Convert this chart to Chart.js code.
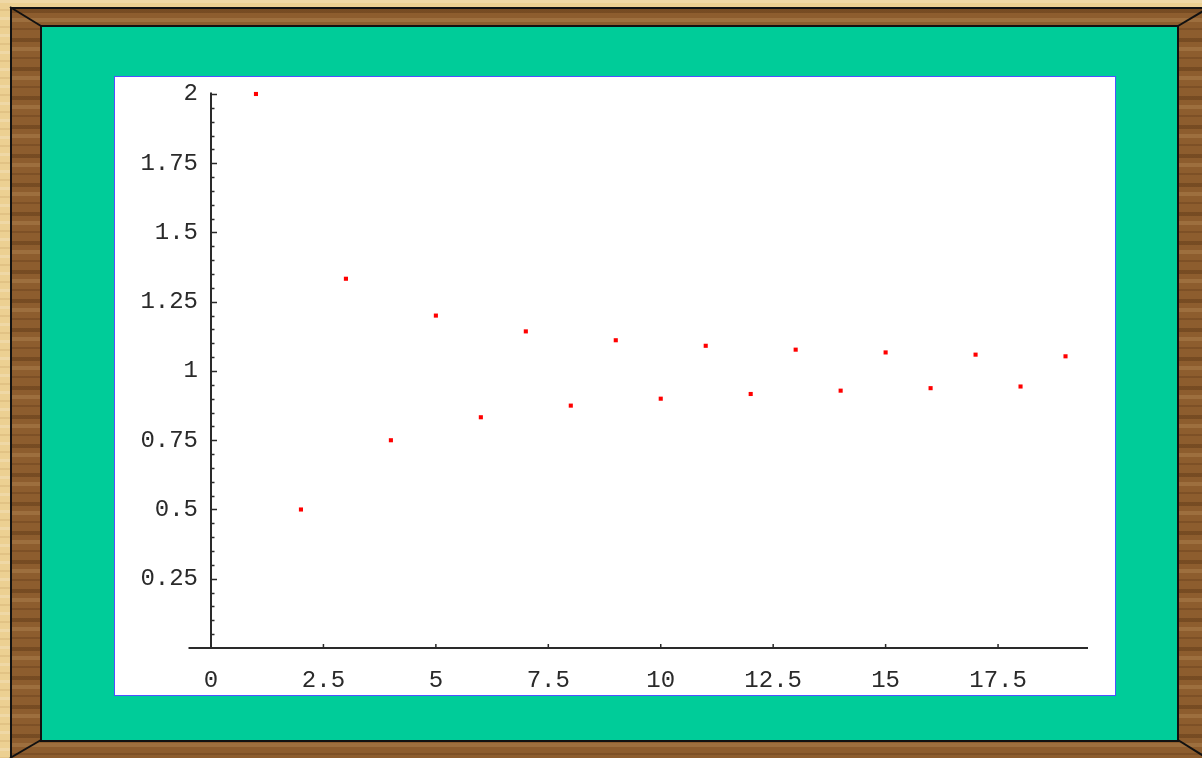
<!DOCTYPE html>
<html>
<head>
<meta charset="utf-8">
<script src="https://cdn.jsdelivr.net/npm/chart.js@4/dist/chart.umd.min.js"></script>
<style>
	html, body { margin: 0; padding: 0; }
	body {
		width: 1202px; height: 758px; overflow: hidden; position: relative;
		background:
			repeating-linear-gradient(180deg, rgba(255,255,255,0.18) 0 3px, rgba(0,0,0,0) 3px 9px, rgba(150,100,40,0.12) 9px 11px, rgba(0,0,0,0) 11px 17px),
			#ecd092;
	}
	#frame {
		position: absolute; left: 10px; top: 7px; width: 1200px; height: 753px;
		box-sizing: border-box; border: 2px solid #111;
		background:
			repeating-linear-gradient(180deg, rgba(60,30,5,0.28) 0 4px, rgba(0,0,0,0) 4px 9px, rgba(255,220,160,0.14) 9px 13px, rgba(0,0,0,0) 13px 19px, rgba(70,35,10,0.22) 19px 21px, rgba(0,0,0,0) 21px 29px),
			#8d5d2e;
	}
	#mat {
		position: absolute; left: 40px; top: 25px; width: 1139px; height: 717px;
		box-sizing: border-box; border: 2px solid #111; background: #00cc99;
	}
	#plot {
		position: absolute; left: 114px; top: 76px; width: 1002px; height: 620px;
		box-sizing: border-box; border: 1px solid #5050ff; background: #fff;
	}
	#chart { position: absolute; left: 115px; top: 77px; }
	svg { position: absolute; left: 0; top: 0; }
</style>
</head>
<body>
<div id="frame"></div>
<div id="mat"></div>
<svg width="1202" height="758">
	<line x1="10" y1="7" x2="41" y2="26" stroke="#111" stroke-width="2"/>
	<line x1="1178" y1="26" x2="1210" y2="7" stroke="#111" stroke-width="2"/>
	<line x1="41" y1="740" x2="10" y2="758" stroke="#111" stroke-width="2"/>
	<line x1="1178" y1="740" x2="1210" y2="760" stroke="#111" stroke-width="2"/>
</svg>
<div id="plot"></div>
<canvas id="chart" width="1000" height="618"></canvas>
<script>
// Points
const nValues = [1, 2, 3, 4, 5, 6, 7, 8, 9, 10, 11, 12, 13, 14, 15, 16, 17, 18, 19];
const yValues = [2.0, 0.5, 1.333, 0.75, 1.2, 0.833, 1.143, 0.875, 1.111, 0.9,
	1.091, 0.917, 1.077, 0.929, 1.067, 0.938, 1.059, 0.944, 1.053];

// Axis ticks
const xTicks = [0, 2.5, 5, 7.5, 10, 12.5, 15, 17.5];
const yTicks = [0.25, 0.5, 0.75, 1, 1.25, 1.5, 1.75, 2];
const xRange = [-0.5, 19.5];
const yRange = [0, 2.005];

const axisColor = '#2a2a2a';
const tickFont = { family: '"Liberation Mono", "DejaVu Sans Mono", monospace', size: 24 };

// Mathematica style axes: crossing at origin, ticks pointing inward
const axesPlugin = {
	id: 'mmaAxes',
	beforeDatasetsDraw(chart) {
		const { ctx, scales: { x, y } } = chart;
		const x0 = x.getPixelForValue(0);
		const y0 = y.getPixelForValue(0);
		ctx.save();
		ctx.strokeStyle = axisColor;
		ctx.lineWidth = 2;
		ctx.beginPath();
		ctx.moveTo(x.getPixelForValue(xRange[0]), y0);
		ctx.lineTo(x.getPixelForValue(xRange[1]), y0);
		ctx.moveTo(x0, y0);
		ctx.lineTo(x0, y.getPixelForValue(yRange[1]));
		ctx.stroke();

		ctx.lineWidth = 1.5;
		ctx.beginPath();
		// y major ticks
		yTicks.forEach(v => {
			const py = Math.round(y.getPixelForValue(v)) + 0.5;
			ctx.moveTo(x0, py);
			ctx.lineTo(x0 + 6, py);
		});
		// y minor ticks
		for (let k = 1; k < 40; k++) {
			if (k % 5 === 0) continue;
			const py = Math.round(y.getPixelForValue(k * 0.05)) + 0.5;
			ctx.moveTo(x0, py);
			ctx.lineTo(x0 + 3.5, py);
		}
		// x major ticks (upward)
		xTicks.forEach(v => {
			if (v === 0) return;
			const px = x.getPixelForValue(v);
			ctx.moveTo(px, y0);
			ctx.lineTo(px, y0 - 4);
		});
		ctx.stroke();
		ctx.restore();
	}
};

new Chart(document.getElementById('chart'), {
	type: 'scatter',
	data: {
		datasets: [{
			data: nValues.map((n, i) => ({ x: n, y: yValues[i] })),
			pointStyle: 'rect',
			pointRadius: 2.9,
			pointHoverRadius: 2.9,
			backgroundColor: '#ff0000',
			borderWidth: 0,
			clip: false
		}]
	},
	options: {
		responsive: false,
		animation: false,
		devicePixelRatio: 1,
		events: [],
		layout: { padding: { top: 15.6, right: 27, left: 0, bottom: 0 } },
		plugins: { legend: { display: false }, tooltip: { enabled: false } },
		scales: {
			x: {
				type: 'linear',
				min: 0,
				max: xRange[1],
				afterFit: s => {
					s.height = 47;
					s.paddingLeft = 0;
					s.paddingRight = 0;
				},
				afterBuildTicks: s => { s.ticks = xTicks.map(v => ({ value: v })); },
				grid: { display: false, drawTicks: false },
				border: { display: false },
				ticks: {
					color: axisColor,
					font: tickFont,
					padding: 18,
					maxRotation: 0,
					autoSkip: false,
					callback: v => String(v)
				}
			},
			y: {
				type: 'linear',
				min: yRange[0],
				max: yRange[1],
				afterFit: s => {
					s.width = 96;
					s.paddingTop = 0;
					s.paddingBottom = 0;
				},
				afterBuildTicks: s => { s.ticks = yTicks.map(v => ({ value: v })); },
				grid: { display: false, drawTicks: false },
				border: { display: false },
				ticks: {
					color: axisColor,
					font: tickFont,
					padding: 13,
					autoSkip: false,
					callback: v => String(v)
				}
			}
		}
	},
	plugins: [axesPlugin]
});
</script>
</body>
</html>
